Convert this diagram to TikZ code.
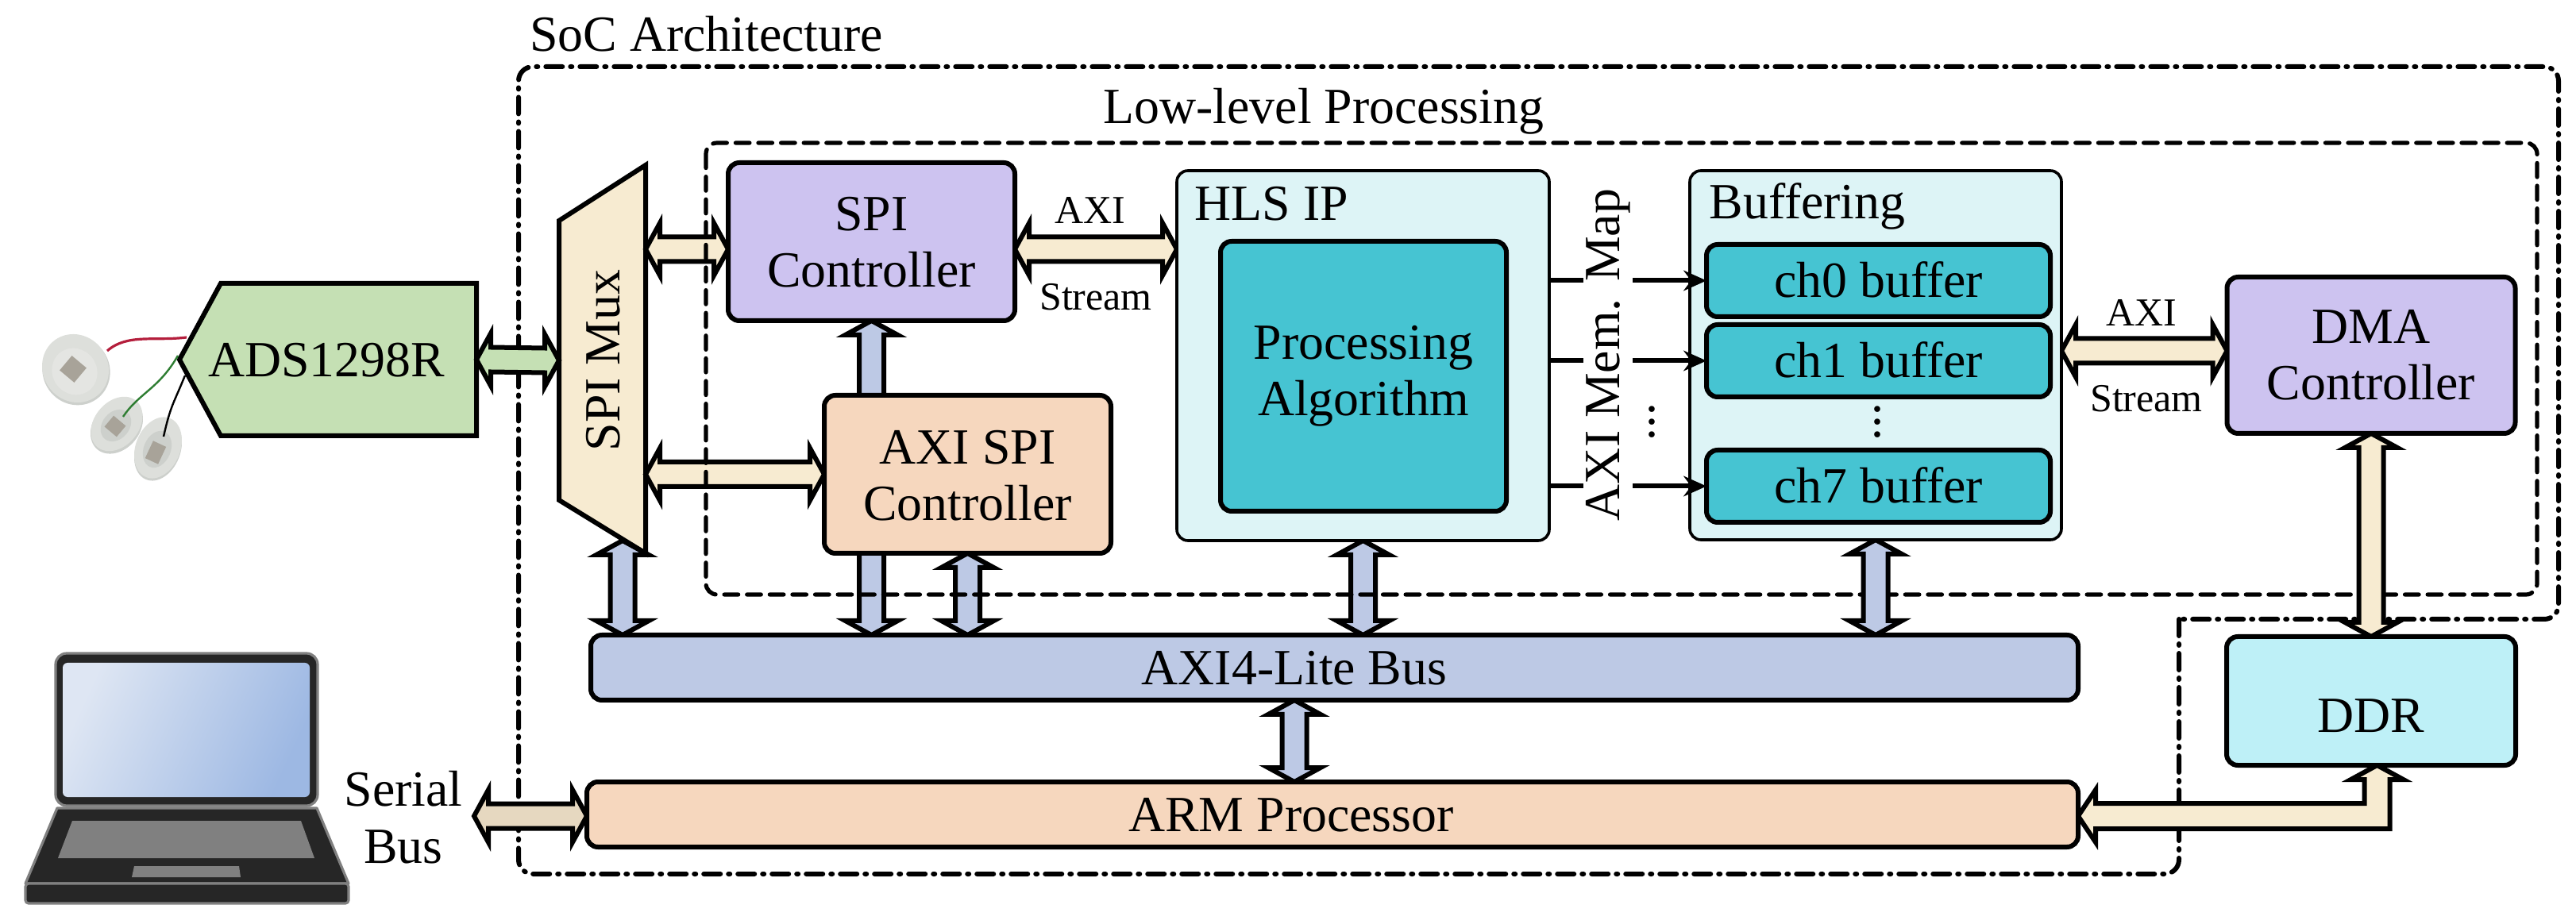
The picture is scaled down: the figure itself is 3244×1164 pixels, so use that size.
\documentclass[tikz,border=0pt]{standalone}
\usepackage{fontspec}
\usepackage{graphicx}
\setmainfont{Liberation Serif}
\usetikzlibrary{calc,arrows.meta}
\pgfdeclarelayer{lay0}\pgfdeclarelayer{lay1}\pgfdeclarelayer{lay2}\pgfdeclarelayer{lay3}
\pgfsetlayers{lay0,lay1,lay2,lay3,main}
\definecolor{cream}{HTML}{F7EBD1}
\definecolor{green1}{HTML}{C5E0B4}
\definecolor{purp}{HTML}{CDC3F0}
\definecolor{peach}{HTML}{F6D7BE}
\definecolor{lav}{HTML}{BDC9E5}
\definecolor{pale}{HTML}{DDF4F6}
\definecolor{teal1}{HTML}{46C4D2}
\definecolor{ddrc}{HTML}{BEF0F7}
\definecolor{sand}{HTML}{E6D8C0}
\definecolor{lapd}{HTML}{262626}
\definecolor{lapg}{HTML}{808080}
\definecolor{scrA}{HTML}{DEE6F3}
\definecolor{scrB}{HTML}{9DB8E3}
\definecolor{skin}{HTML}{DDDFDB}
\definecolor{skinb}{HTML}{CDD0CC}
\definecolor{clipc}{HTML}{A8A399}
\definecolor{wirered}{HTML}{B41E3C}
\definecolor{wiregreen}{HTML}{2E7D32}
\newlength\pxu \setlength\pxu{0.25pt}
\newcommand\offtext[3]{\raisebox{-#2\pxu}[0pt][0pt]{\makebox[0pt][c]{\kern#1\pxu\kern#1\pxu\begin{tabular}[b]{@{}c@{}}#3\end{tabular}}}}
\newcommand\fbig{\fontsize{15.95}{17.75}\selectfont}
\newcommand\fsmall{\fontsize{12.5}{14}\selectfont}
\tikzset{
  x=0.25pt,y=-0.25pt,
  sz/.style 2 args={minimum width=#1*0.25pt,minimum height=#2*0.25pt},
  box/.style={draw=black,line width=1.5pt,rounded corners=3.5pt,inner sep=0pt,outer sep=0pt,font=\fbig},
  thinbox/.style={box,line width=0.9pt},
  ghost/.style={inner sep=0pt,outer sep=0pt,font=\fbig},
  lab/.style={font=\fbig,anchor=base,inner sep=0pt},
  smalllab/.style={font=\fsmall,anchor=base,inner sep=0pt},
  outline/.style={draw=black,line width=1.5pt,line join=miter},
  socline/.style={draw=black,line width=1.5pt,line cap=round,dash pattern=on 5.25pt off 2.5pt on 0.5pt off 2.5pt},
  lowline/.style={draw=black,line width=1.3pt,line cap=round,dash pattern=on 4.4pt off 2.75pt},
  hbar/.style={outline,to path={-- ($(\tikztostart)+(18,-33)$) -- ($(\tikztostart)+(18,-15.5)$) -- ($(\tikztotarget)+(-18,-15.5)$) -- ($(\tikztotarget)+(-18,-33)$) -- (\tikztotarget) -- ($(\tikztotarget)+(-18,33)$) -- ($(\tikztotarget)+(-18,15.5)$) -- ($(\tikztostart)+(18,15.5)$) -- ($(\tikztostart)+(18,33)$) -- cycle}},
  vbar/.style={outline,to path={-- ($(\tikztostart)+(33,18)$) -- ($(\tikztostart)+(15.5,18)$) -- ($(\tikztotarget)+(15.5,-18)$) -- ($(\tikztotarget)+(33,-18)$) -- (\tikztotarget) -- ($(\tikztotarget)+(-33,-18)$) -- ($(\tikztotarget)+(-15.5,-18)$) -- ($(\tikztostart)+(-15.5,18)$) -- ($(\tikztostart)+(-33,18)$) -- cycle}},
  maplink/.style={draw=black,line width=1.5pt,-{Stealth[length=7.2pt,width=6.4pt]}},
  lapline/.style={draw=lapg,fill=lapd,line width=0.8pt},
}
\begin{document}
\begin{tikzpicture}
\useasboundingbox (0,0) rectangle (3244,1164);

% ---- boxes (main layer)
\node[box,fill=purp,sz={361}{199}] (spi) at (1097.5,304.5) {\offtext{0}{57.5}{SPI\\Controller}};
\node[box,fill=peach,sz={361}{199}] (axispi) at (1218.5,597.5) {\offtext{0}{58.5}{AXI SPI\\Controller}};
\node[thinbox,fill=pale,sz={469}{466}] (hls) at (1716.5,448) {\offtext{-115}{-170}{HLS IP}};
\node[box,fill=teal1,sz={360}{340}] (alg) at (1717,474) {\offtext{0}{50}{Processing\\Algorithm}};
\node[thinbox,fill=pale,sz={468}{465}] (buf) at (2362,447.5) {\offtext{-86}{-172}{Buffering}};
\node[box,fill=teal1,sz={433}{91}] (ch0) at (2365.5,353.5) {\offtext{0}{21}{ch0 buffer}};
\node[box,fill=teal1,sz={433}{91}] (ch1) at (2365.5,454.5) {\offtext{0}{21}{ch1 buffer}};
\node[box,fill=teal1,sz={433}{91}] (ch7) at (2365.5,612.5) {\offtext{0}{21}{ch7 buffer}};
\node[box,fill=purp,sz={363}{197}] (dma) at (2986,447.5) {\offtext{0}{56.5}{DMA\\Controller}};
\node[box,fill=ddrc,sz={364}{162}] (ddr) at (2986,883) {\offtext{0}{39}{DDR}};
\node[box,fill=lav,sz={1873}{82}] (bus) at (1680.5,841) {\offtext{-50.5}{22}{AXI4-Lite Bus}};
\node[box,fill=peach,sz={1878}{82}] (arm) at (1678,1026) {\offtext{-52}{21.5}{ARM Processor}};
\node[ghost,sz={374}{192}] (ads) at (413,453) {\offtext{-2}{22}{ADS1298R}};
\node[ghost,sz={109}{352}] (mux) at (758.5,454) {\rotatebox{90}{\offtext{0}{22}{SPI Mux}}};

% ---- free labels
\node[lab] (soclab) at (889.5,65) {SoC Architecture};
\node[lab] (lowlab) at (1667,156) {Low-level Processing};
\node[smalllab] (axi1) at (1373,282) {AXI};
\node[smalllab] (str1) at (1380,391) {Stream};
\node[smalllab] (axi2) at (2697,411) {AXI};
\node[smalllab] (str2) at (2703,519) {Stream};
\node[lab] (ser1) at (508,1016) {Serial};
\node[lab] (ser2) at (508,1087) {Bus};
\node[font=\fbig,inner sep=0pt] (dots1) at (2080,520) {$\vdots$};
\node[font=\fbig,inner sep=0pt] (dots2) at (2364,520) {$\vdots$};

% ---- named coordinates
\coordinate (yspi) at (0,314);
\coordinate (yaxi) at (0,442);
\coordinate (xba) at (1630,0);
\coordinate (muxtip) at (784,681);
\coordinate (serialL) at (597,1028);
\coordinate (elbow) at (2993.5,1028);

% ---- memory-mapped links and their label
\draw[maplink] (hls.east |- ch0.west) -- (ch0.west);
\draw[maplink] (hls.east |- ch1.west) -- (ch1.west);
\draw[maplink] (hls.east |- ch7.west) -- (ch7.west);
\node[font=\fbig,rotate=90,anchor=base,fill=white,inner xsep=0pt,inner ysep=0.8pt] (memmap) at (2039,447) {AXI Mem. Map};

% ---- bottom layer: SoC frame, mux, ADS
\begin{pgfonlayer}{lay0}
\draw[socline,rounded corners=4.5pt] (2744,780) -- (2744,1101) -- (653,1101) -- (653,84) -- (3222,84) -- (3222,780) -- (2744,780);
\draw[outline,fill=cream] (704,278) -- (813,208) -- (813,697) -- (704,630) -- cycle;
\draw[outline,fill=green1] (226,453) -- (278,357) -- (600,357) -- (600,549) -- (278,549) -- cycle;
\end{pgfonlayer}

% ---- arrows beneath the low-level frame
\begin{pgfonlayer}{lay1}
\draw[hbar,fill=green1] (ads.east) to (mux.west);
\draw[hbar,fill=cream] (mux.east |- yspi) to (spi.west |- yspi);
\draw[hbar,fill=cream] (spi.east |- yspi) to (hls.west |- yspi);
\draw[hbar,fill=cream] (mux.east |- axispi.west) to (axispi.west);
\draw[vbar,fill=lav] (spi.south) to (bus.north -| spi.south);
\draw[vbar,fill=lav] (axispi.south) to (bus.north -| axispi.south);
\draw[vbar,fill=lav] (muxtip) to (bus.north -| muxtip);
\draw[vbar,fill=lav] (hls.south) to (bus.north -| hls.south);
\draw[vbar,fill=lav] (bus.south -| xba) to (arm.north -| xba);
\draw[hbar,fill=sand] (serialL) to (arm.west |- serialL);
\end{pgfonlayer}

% ---- low-level frame
\begin{pgfonlayer}{lay2}
\draw[lowline,rounded corners=3.5pt] (889,180) rectangle (3195,749);
\end{pgfonlayer}

% ---- arrows above the low-level frame
\begin{pgfonlayer}{lay3}
\draw[vbar,fill=lav] (buf.south) to (bus.north -| buf.south);
\draw[hbar,fill=cream] (buf.east |- yaxi) to (dma.west |- yaxi);
\draw[vbar,fill=cream] (dma.south) to (ddr.north);
\draw[outline,fill=cream] (ddr.south -| elbow) -- ($(ddr.south -| elbow)+(33,18)$) -- ($(ddr.south -| elbow)+(16,18)$) -- ($(elbow)+(16,16)$)
  -- ($(arm.east |- elbow)+(22,16)$) -- ($(arm.east |- elbow)+(22,33)$) -- (arm.east |- elbow) -- ($(arm.east |- elbow)+(22,-33)$) -- ($(arm.east |- elbow)+(22,-16)$)
  -- ($(elbow)+(-16,-16)$) -- ($(ddr.south -| elbow)+(-16,18)$) -- ($(ddr.south -| elbow)+(-33,18)$) -- cycle;
\end{pgfonlayer}

% ---- electrodes
\fill[skinb,rotate around={-55:(96,467)}] (96,467) ellipse [x radius=44,y radius=42];
\fill[skin,rotate around={-55:(95,464)}] (95,464) ellipse [x radius=44,y radius=41];
\fill[skin!80!white,rotate around={-55:(94,468)}] (94,468) ellipse [x radius=30,y radius=28];
\fill[clipc,rotate around={-40:(92,465)}] (80,453) rectangle (104,477);
\fill[skinb,rotate around={50:(147,537)}] (147,537) ellipse [x radius=38,y radius=29];
\fill[skin,rotate around={50:(147,534)}] (147,534) ellipse [x radius=38,y radius=28];
\fill[skinb,rotate around={50:(146,536)}] (146,536) ellipse [x radius=22,y radius=17];
\fill[clipc,rotate around={-40:(145,537)}] (135,528) rectangle (155,546);
\fill[skinb,rotate around={68:(199,567)}] (199,567) ellipse [x radius=40,y radius=28];
\fill[skin,rotate around={68:(199,564)}] (199,564) ellipse [x radius=40,y radius=28];
\fill[skinb,rotate around={68:(198,566)}] (198,566) ellipse [x radius=24,y radius=17];
\fill[clipc,rotate around={-25:(196,570)}] (187,558) rectangle (205,582);
\draw[draw=wirered,line width=0.8pt] (135,442) .. controls (160,420) and (195,430) .. (235,425);
\draw[draw=wiregreen,line width=0.6pt] (155,525) .. controls (175,495) and (200,490) .. (224,448);
\draw[draw=black,line width=0.6pt] (206,550) .. controls (215,510) and (218,510) .. (233,473);

% ---- laptop
\draw[lapline,rounded corners=3.5pt] (70,823) rectangle (400,1015);
\shade[rounded corners=1.5pt,bottom color=scrA,top color=scrB,shading angle=-115] (79,835) rectangle (390,1004);
\draw[lapline,line join=round] (72,1018) -- (399,1018) -- (439,1113) -- (32,1113) -- cycle;
\draw[lapline,rounded corners=1pt] (32,1113) rectangle (439,1138);
\fill[lapg] (91,1034) -- (379,1034) -- (396,1081) -- (73,1081) -- cycle;
\fill[lapg] (169,1091) -- (301,1091) -- (303,1105) -- (166,1105) -- cycle;
\end{tikzpicture}
\end{document}
